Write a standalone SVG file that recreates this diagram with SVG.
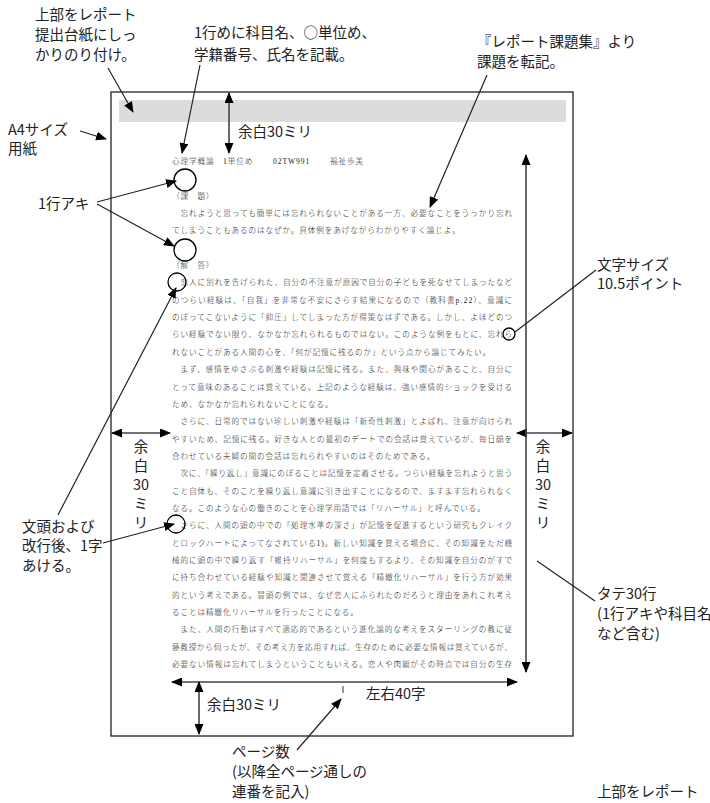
<svg xmlns="http://www.w3.org/2000/svg" width="710" height="803" viewBox="0 0 710 803">
<defs>
<marker id="ah" markerUnits="userSpaceOnUse" markerWidth="11" markerHeight="9" refX="10" refY="4.5" orient="auto-start-reverse"><path d="M0,0 L11,4.5 L0,9 Z" fill="#000"/></marker>
</defs>
<style>
.lab{font-family:"Noto Sans CJK JP","Liberation Sans",sans-serif;font-size:14.5px;fill:#222}
.body{font-family:"Liberation Serif","Noto Sans CJK JP",serif;font-size:7.6px;fill:#1a1a1a;font-weight:300;letter-spacing:0.9px}
.ln{stroke:#222;stroke-width:1.2;fill:none}
.dim{stroke:#444;stroke-width:1.6;fill:none;marker-start:url(#ah);marker-end:url(#ah)}
.ptr{stroke:#222;stroke-width:1.2;fill:none;marker-end:url(#ah)}
.circ{stroke:#000;stroke-width:1.3;fill:none}
</style>
<rect width="710" height="803" fill="#fff"/>
<g id="page">
<rect x="111" y="92" width="462" height="644" fill="#fff" stroke="#222" stroke-width="1.3"/>
<rect x="119" y="100" width="447" height="22" fill="#dcdcdc"/>
</g>
<g id="body-text" class="body">
<text x="172" y="164">心理学概論</text>
<text x="223" y="164">1単位め</text>
<text x="273" y="164">02TW991</text>
<text x="330" y="164">福祉歩美</text>
<text x="172" y="199">（課　題）</text>
<text x="172" y="216" textLength="341" lengthAdjust="spacing">　忘れようと思っても簡単には忘れられないことがある一方、必要なことをうっかり忘れ</text>
<text x="172" y="233">てしまうこともあるのはなぜか。具体例をあげながらわかりやすく論じよ。</text>
<text x="172" y="268">（解　答）</text>
<text x="172" y="285" textLength="341" lengthAdjust="spacing">　恋人に別れを告げられた、自分の不注意が原因で自分の子どもを死なせてしまったなど</text>
<text x="172" y="303" textLength="341" lengthAdjust="spacing">のつらい経験は、「自我」を非常な不安にさらす結果になるので（教科書p.22）、意識に</text>
<text x="172" y="320" textLength="341" lengthAdjust="spacing">のぼってこないように「抑圧」してしまった方が得策なはずである。しかし、よほどのつ</text>
<text x="172" y="337" textLength="341" lengthAdjust="spacing">らい経験でない限り、なかなか忘れられるものではない。このような例をもとに、忘れら</text>
<text x="172" y="355">れないことがある人間の心を、「何が記憶に残るのか」という点から論じてみたい。</text>
<text x="172" y="372" textLength="341" lengthAdjust="spacing">　まず、感情をゆさぶる刺激や経験は記憶に残る。また、興味や関心があること、自分に</text>
<text x="172" y="390" textLength="341" lengthAdjust="spacing">とって意味のあることは覚えている。上記のような経験は、強い感情的ショックを受ける</text>
<text x="172" y="407">ため、なかなか忘れられないことになる。</text>
<text x="172" y="424" textLength="341" lengthAdjust="spacing">　さらに、日常的ではない珍しい刺激や経験は「新奇性刺激」とよばれ、注意が向けられ</text>
<text x="172" y="442" textLength="341" lengthAdjust="spacing">やすいため、記憶に残る。好きな人との最初のデートでの会話は覚えているが、毎日顔を</text>
<text x="172" y="459">合わせている夫婦の間の会話は忘れられやすいのはそのためである。</text>
<text x="172" y="476" textLength="341" lengthAdjust="spacing">　次に、「繰り返し」意識にのぼることは記憶を定着させる。つらい経験を忘れようと思う</text>
<text x="172" y="494" textLength="341" lengthAdjust="spacing">こと自体も、そのことを繰り返し意識に引き出すことになるので、ますます忘れられなく</text>
<text x="172" y="511">なる。このような心の働きのことを心理学用語では「リハーサル」と呼んでいる。</text>
<text x="172" y="528" textLength="341" lengthAdjust="spacing">　さらに、人間の頭の中での「処理水準の深さ」が記憶を促進するという研究もクレイク</text>
<text x="172" y="546" textLength="341" lengthAdjust="spacing">とロックハートによってなされている1)。新しい知識を覚える場合に、その知識をただ機</text>
<text x="172" y="563" textLength="341" lengthAdjust="spacing">械的に頭の中で繰り返す「維持リハーサル」を何度もするより、その知識を自分のがすで</text>
<text x="172" y="580" textLength="341" lengthAdjust="spacing">に持ち合わせている経験や知識と関連させて覚える「精緻化リハーサル」を行う方が効果</text>
<text x="172" y="598" textLength="341" lengthAdjust="spacing">的という考えである。冒頭の例では、なぜ恋人にふられたのだろうと理由をあれこれ考え</text>
<text x="172" y="615">ることは精緻化リハーサルを行ったことになる。</text>
<text x="172" y="632" textLength="341" lengthAdjust="spacing">　また、人間の行動はすべて適応的であるという進化論的な考えをスターリングの教に従</text>
<text x="172" y="650" textLength="341" lengthAdjust="spacing">藤教授から伺ったが、その考え方を応用すれば、生存のために必要な情報は覚えているが、</text>
<text x="172" y="667" textLength="341" lengthAdjust="spacing">必要ない情報は忘れてしまうということもいえる。恋人や肉親がその時点では自分の生存</text>
<line x1="343" y1="686" x2="343" y2="693" stroke="#555" stroke-width="1.2"/>
</g>
<g id="marks">
<circle class="circ" cx="185" cy="180" r="11"/>
<circle class="circ" cx="185" cy="250" r="11"/>
<circle class="circ" cx="177" cy="282" r="9"/>
<circle class="circ" cx="176" cy="524" r="9"/>
<circle class="circ" cx="509" cy="334" r="6"/>
</g>
<g id="connectors">
<line class="dim" x1="229" y1="93" x2="229" y2="153"/>
<line class="dim" x1="112" y1="433" x2="170" y2="433"/>
<line class="dim" x1="517" y1="433" x2="572" y2="433"/>
<line class="dim" x1="526" y1="155" x2="526" y2="672"/>
<line class="dim" x1="172" y1="682" x2="517" y2="682"/>
<line class="dim" x1="199" y1="682" x2="199" y2="734"/>
<line class="ptr" x1="108" y1="68" x2="133" y2="112"/>
<line class="ptr" x1="200" y1="65" x2="182" y2="153"/>
<line class="ptr" x1="487" y1="75" x2="430" y2="207"/>
<line class="ptr" x1="80" y1="131" x2="106" y2="139"/>
<line class="ptr" x1="97" y1="202" x2="176" y2="181"/>
<line class="ptr" x1="97" y1="204" x2="174" y2="246"/>
<line class="ptr" x1="58" y1="515" x2="176" y2="288"/>
<line class="ptr" x1="103" y1="543" x2="174" y2="524"/>
<line class="ptr" x1="297" y1="750" x2="341" y2="699"/>
<line class="ln" x1="596" y1="270" x2="515" y2="332"/>
<line class="ln" x1="595" y1="601" x2="537" y2="561"/>
</g>
<g id="labels" class="lab">
<text x="35" y="20">上部をレポート</text>
<text x="35" y="40">提出台紙にしっ</text>
<text x="35" y="60">かりのり付け。</text>
<text x="194" y="38">1行めに科目名、○単位め、</text>
<text x="194" y="60">学籍番号、氏名を記載。</text>
<text x="477" y="47">『レポート課題集』より</text>
<text x="477" y="67">課題を転記。</text>
<text x="8" y="135">A4サイズ</text>
<text x="8" y="154">用紙</text>
<text x="238" y="137">余白30ミリ</text>
<text x="38" y="209">1行アキ</text>
<text x="597" y="270">文字サイズ</text>
<text x="597" y="289">10.5ポイント</text>
<text x="22" y="532">文頭および</text>
<text x="22" y="551">改行後、1字</text>
<text x="22" y="571">あける。</text>
<text x="597" y="599">タテ30行</text>
<text x="597" y="619">(1行アキや科目名</text>
<text x="597" y="639">など含む)</text>
<text x="207" y="710">余白30ミリ</text>
<text x="366" y="699">左右40字</text>
<text x="232" y="757">ページ数</text>
<text x="232" y="777">(以降全ページ通しの</text>
<text x="232" y="797">連番を記入)</text>
<text x="597" y="797">上部をレポート</text>
<g text-anchor="middle">
<text x="141" y="452">余</text><text x="141" y="471">白</text><text x="141" y="490">30</text><text x="141" y="509">ミ</text><text x="141" y="528">リ</text>
<text x="543" y="452">余</text><text x="543" y="471">白</text><text x="543" y="490">30</text><text x="543" y="509">ミ</text><text x="543" y="528">リ</text>
</g>
</g>
</svg>
